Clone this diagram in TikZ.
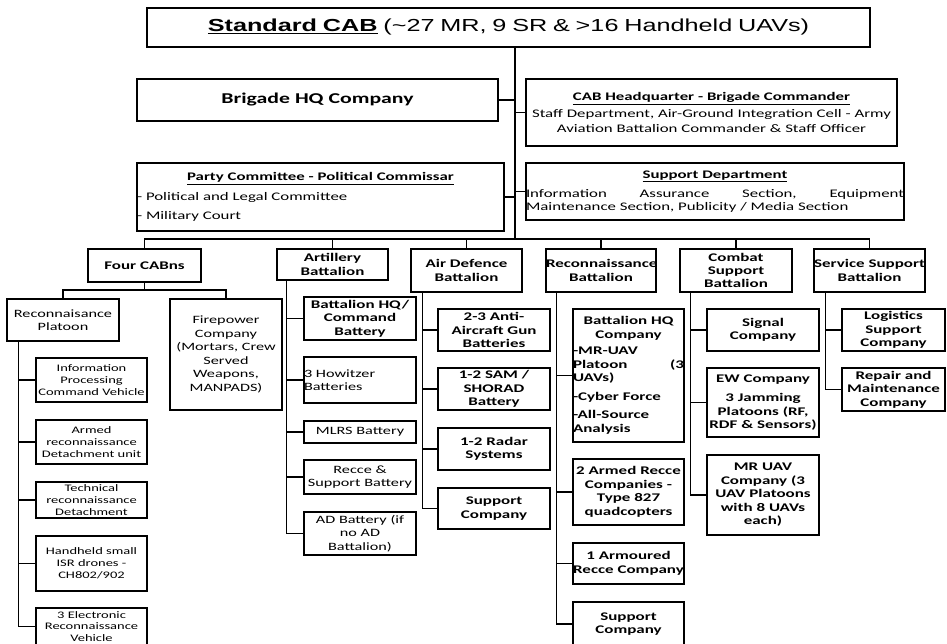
\documentclass[tikz,border=0pt]{standalone}
\usepackage{fontspec}
\setmainfont{Carlito}[FakeStretch=1.45]
\newfontfamily\titlefont{Liberation Sans}[FakeStretch=1.45]
\newcommand\midline[1]{\noindent\hbox to\hsize{\hfil#1\hfil}}

\begin{document}
\begin{tikzpicture}[x=1pt,y=-1pt,
    box/.style={draw, line width=1.5pt, inner sep=0pt, align=center,
        font=\bfseries\fontsize{11.7}{13.5}\selectfont},
    plain/.style={box, font=\mdseries\fontsize{11.2}{13.5}\selectfont},
    small/.style={box, font=\mdseries\fontsize{10}{11.8}\selectfont},
    wh/.style 2 args={text width=#1pt, minimum height=#2pt},
    link/.style={line width=1.5pt}]
\useasboundingbox (0,0) rectangle (947,644);

%top
        \node[box, wh={723}{39}, font=\titlefont\fontsize{17.4}{20}\selectfont] (cab) at (508.5,27.5)
            {\underline{\textbf{Standard CAB}} (\textasciitilde27 MR, 9 SR \& >16 Handheld UAVs)};
        \coordinate (bus) at (515,239);

        \node[box, wh={361}{42}, font=\bfseries\fontsize{15}{18}\selectfont] (bhq) at (317.5,100) {Brigade HQ Company};
        \node[box, wh={371}{67}, font=\mdseries\fontsize{11.6}{15}\selectfont] (cabhq) at (711.5,112.5)
            {\textbf{\underline{CAB Headquarter - Brigade Commander}}\\[2pt]
             Staff Department, Air-Ground Integration Cell - Army\\Aviation Battalion Commander \& Staff Officer};
        \node[box, wh={367}{68}, align=left, font=\mdseries\fontsize{11.6}{19.5}\selectfont] (party) at (320.5,197)
            {\midline{\textbf{\underline{Party Committee - Political Commissar}}}\\
             - Political and Legal Committee\\- Military Court};
        \node[box, wh={378}{57}, align=left, font=\mdseries\fontsize{11.6}{13}\selectfont] (supdep) at (715,191.5)
            {\midline{\textbf{\underline{Support Department}}}\\[6pt]
             Information\hfill Assurance\hfill Section,\hfill Equipment\\Maintenance Section, Publicity / Media Section};

        \draw[link] (cab.south -| bus) -- (bus);
        \draw[link] (bhq.east) -- (bhq.east -| bus);
        \draw[link] (cabhq.west) -- (cabhq.west -| bus);
        \draw[link] (party.east) -- (party.east -| bus);
        \draw[link] (supdep.west) -- (supdep.west -| bus);

%battalions
        \node[box, wh={113}{33}] (cabns) at (144.5,265.5) {Four CABns};
        \node[box, wh={111}{31}] (art)   at (332.5,264.5) {Artillery\\Battalion};
        \node[box, wh={111}{43}] (adbn)  at (466.5,270.5) {Air Defence\\Battalion};
        \node[box, wh={110}{43}] (recce) at (601,270.5)   {Reconnaissance\\Battalion};
        \node[box, wh={112}{43}, font=\bfseries\fontsize{11.7}{13}\selectfont] (csb) at (736,270.5) {Combat\\Support\\Battalion};
        \node[box, wh={111}{43}] (ssb)   at (869.5,270.5) {Service Support\\Battalion};

        \draw[link] (cabns.north) |- (bus) -| (ssb.north);
        \foreach \b in {art,adbn,recce,csb}
            \draw[link] (\b.north) -- (\b.north |- bus);

%four CABns
        \coordinate (cabsplit) at (144.5,290);
        \node[plain, wh={112}{42}]  (rp)   at (63,320)    {Reconnaisance\\Platoon};
        \node[plain, wh={112}{111}] (fp)   at (226,354.5) {Firepower\\Company\\(Mortars, Crew\\Served\\Weapons,\\MANPADS)};
        \node[small, wh={111}{44}]  (ipc)  at (91.5,380)  {Information\\Processing\\Command Vehicle};
        \node[small, wh={111}{44}]  (arm)  at (91.5,442)  {Armed\\reconnaissance\\Detachment unit};
        \node[small, wh={111}{36}]  (tech) at (91.5,500)  {Technical\\reconnaissance\\Detachment};
        \node[small, wh={111}{55}]  (hh)   at (91.5,563.5) {Handheld small\\ISR drones -\\CH802/902};
        \node[small, wh={111}{37}]  (elec) at (91.5,626.5) {3 Electronic\\Reconnaissance\\Vehicle};

        \draw[link] (cabns.south) -- (cabsplit);
        \draw[link] (rp.north) |- (cabsplit) -| (fp.north);
        \foreach \c in {ipc,arm,tech,hh,elec}
            \draw[link] ([xshift=12pt]rp.south west) |- (\c.west);

%artillery
        \node[box, wh={112}{43}]   (ahq)  at (360,318.5) {Battalion HQ/\\Command\\Battery};
        \node[plain, wh={112}{46}, align=left] (how) at (360,380) {3 Howitzer\\Batteries};
        \node[plain, wh={112}{22}] (mlrs) at (360,432)   {MLRS Battery};
        \node[plain, wh={112}{34}] (rsb)  at (360,477)   {Recce \&\\Support Battery};
        \node[plain, wh={112}{43}] (adb)  at (360,533.5) {AD Battery (if\\no AD\\Battalion)};

        \foreach \c in {ahq,how,mlrs,rsb,adb}
            \draw[link] ([xshift=10pt]art.south west) |- (\c.west);

%air defence
        \node[box, wh={112}{42}] (aag)   at (494,330)   {2-3 Anti-\\Aircraft Gun\\Batteries};
        \node[box, wh={112}{42}] (sam)   at (494,389)   {1-2 SAM /\\SHORAD\\Battery};
        \node[box, wh={112}{42}] (radar) at (494,449)   {1-2 Radar\\Systems};
        \node[box, wh={112}{41}] (adsup) at (494,508.5) {Support\\Company};

        \foreach \c in {aag,sam,radar,adsup}
            \draw[link] ([xshift=12pt]adbn.south west) |- (\c.west);

%reconnaissance
        \node[box, wh={111}{133}, align=left] (rhq) at (628.5,375.5)
            {\midline{Battalion HQ}\\\midline{Company}\\[3pt]
             -MR-UAV\\Platoon\hfill(3\\UAVs)\\[5pt]-Cyber Force\\[5pt]-All-Source\\Analysis};
        \node[box, wh={111}{66}] (arc)  at (628.5,492)   {2 Armed Recce\\Companies -\\Type 827\\quadcopters};
        \node[box, wh={111}{41}] (arm1) at (628.5,563.5) {1 Armoured\\Recce Company};
        \node[box, wh={111}{44}] (rsup) at (628.5,624)   {Support\\Company};

        \foreach \c in {rhq,arc,arm1,rsup}
            \draw[link] ([xshift=11pt]recce.south west) |- (\c.west);

%combat support
        \node[box, wh={112}{42}] (sig) at (763,330)   {Signal\\Company};
        \node[box, wh={112}{69}] (ew)  at (763,402.5) {EW Company\\[6pt]3 Jamming\\Platoons (RF,\\RDF \& Sensors)};
        \node[box, wh={112}{80}] (mru) at (763,495)   {MR UAV\\Company (3\\UAV Platoons\\with 8 UAVs\\each)};

        \foreach \c in {sig,ew,mru}
            \draw[link] ([xshift=11pt]csb.south west) |- (\c.west);

%service support
        \node[box, wh={103}{42}] (log) at (893.5,330)   {Logistics\\Support\\Company};
        \node[box, wh={103}{43}] (rep) at (893.5,389.5) {Repair and\\Maintenance\\Company};

        \foreach \c in {log,rep}
            \draw[link] ([xshift=12pt]ssb.south west) |- (\c.west);
\end{tikzpicture}
\end{document}
